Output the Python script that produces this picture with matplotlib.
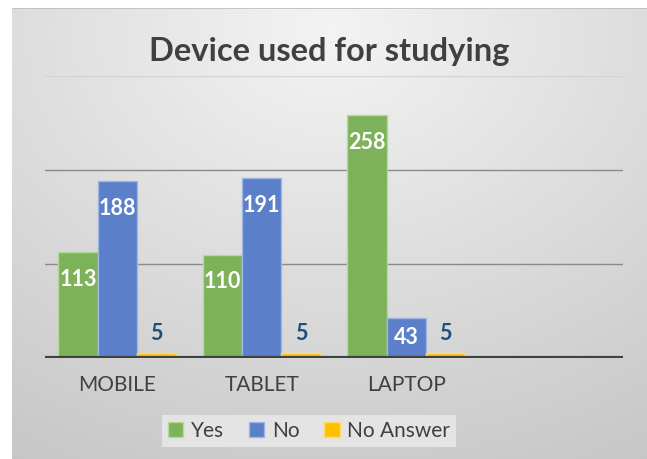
import numpy as np
import matplotlib
matplotlib.use("Agg")
import matplotlib.pyplot as plt
from matplotlib.patches import Patch

plt.rcParams['font.family'] = ['Lato', 'DejaVu Sans']

# --- data ---
categories = ["MOBILE", "TABLET", "LAPTOP"]
n_slots = 4  # the original chart keeps an empty 4th slot on the right
series_names = ["Yes", "No", "No Answer"]
yes_vals = [113, 110, 258]
no_vals = [188, 191, 43]
noans_vals = [5, 5, 5]

colors = ["#7DB25B", "#5B80C9", "#FFC000"]
edges = ["#B5D89C", "#9DB6E3", "#FFDB6E"]
text_dark = "#404040"

W, H = 647, 459
fig = plt.figure(figsize=(W / 100, H / 100), dpi=100)
fig.patch.set_facecolor("white")

# gradient background panel
bg = fig.add_axes([12 / W, 0, 1 - 12 / W, 1 - 8 / H])
yy, xx = np.mgrid[0:1:200j, 0:1:300j]
r = np.sqrt(((xx - 0.5) * 1.1) ** 2 + ((yy - 0.05) * 1.0) ** 2)
shade = np.clip(0.955 - 0.16 * r, 0, 1)
bg.imshow(np.dstack([shade] * 3), aspect="auto", extent=[0, 1, 1, 0])
bg.set_xlim(0, 1)
bg.set_ylim(1, 0)
bg.axis("off")
bg.axhline(0.001, color="#bdbdbd", lw=1.2)

ax = fig.add_axes([45 / W, (H - 358) / H, (623 - 45) / W, (358 - 76) / H])
ax.set_facecolor("none")
ax.set_xlim(-0.5, n_slots - 0.5)
ax.set_ylim(0, 300)

# gridlines
ax.axhline(100, color="#8a8a8a", lw=1.0, zorder=0)
ax.axhline(200, color="#8a8a8a", lw=1.0, zorder=0)
ax.axhline(300, color="#d4d4d4", lw=1.0, zorder=0)

x = np.arange(len(categories))
bw = 0.272
all_vals = [yes_vals, no_vals, noans_vals]
for i, vals in enumerate(all_vals):
    pos = x + (i - 1) * bw
    bars = ax.bar(pos, vals, width=bw, color=colors[i], edgecolor=edges[i],
                  linewidth=1.0, zorder=2, label=series_names[i])
    for b, v in zip(bars, vals):
        cx = b.get_x() + b.get_width() / 2
        if i < 2:
            ax.text(cx, max(v - 29, v / 2), str(v), ha="center", va="center",
                    color="white", fontsize=15.5, fontweight="bold", zorder=3)
        else:
            ax.annotate(str(v), (cx, v), xytext=(0, 7), textcoords="offset points",
                        ha="center", va="bottom", color="#1F4E79",
                        fontsize=15.5, fontweight="bold", zorder=3)

ax.axhline(0, color="#404040", lw=3, zorder=4)
for s in ax.spines.values():
    s.set_visible(False)
ax.set_yticks([])
ax.set_xticks(x)
ax.set_xticklabels(categories, fontsize=15, color=text_dark)
ax.tick_params(axis="x", length=0, pad=12)

fig.text(329 / W, 1 - 52 / H, "Device used for studying", ha="center", va="center",
         fontsize=23.5, fontweight="bold", color=text_dark)

handles = [Patch(facecolor=c, edgecolor=e) for c, e in zip(colors, edges)]
leg = fig.legend(handles, series_names, loc="center", bbox_to_anchor=(309 / W, 1 - 431 / H),
                 ncol=3, frameon=True, fontsize=15, handlelength=0.75, handleheight=0.75,
                 handletextpad=0.35, columnspacing=1.2, borderpad=0.3)
leg.get_frame().set_facecolor("#e4e4e4")
leg.get_frame().set_edgecolor("none")
leg.get_frame().set_alpha(1)
leg.get_frame().set_boxstyle("square", pad=0.0)
for t in leg.get_texts():
    t.set_color(text_dark)

fig.savefig("out.png", dpi=100)
